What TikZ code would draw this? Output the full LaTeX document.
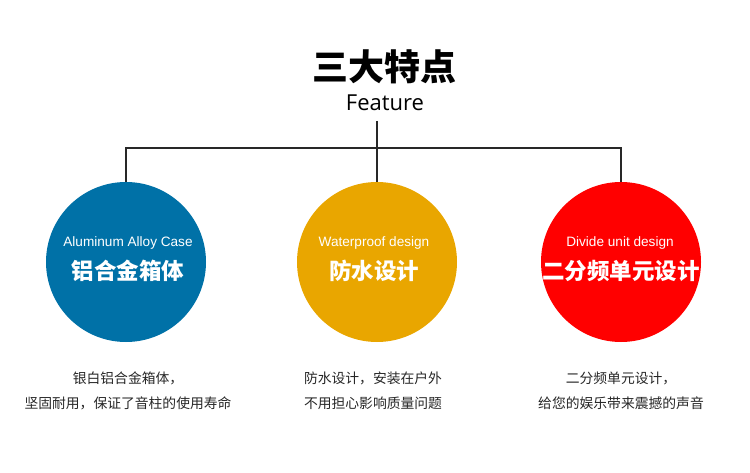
\documentclass[tikz,border=0pt]{standalone}
\usepackage{fontspec}
\setmainfont{Liberation Sans}
\newfontfamily\cjk{Noto Sans CJK SC}
\newfontfamily\featfont{Open Sans}
\usetikzlibrary{positioning}
\definecolor{alublue}{RGB}{0,113,167}
\definecolor{wateryellow}{RGB}{233,166,0}
\definecolor{unitred}{RGB}{255,0,0}
\definecolor{linegray}{RGB}{40,40,40}
\tikzset{
    disc/.style={circle, fill=#1, minimum size=160pt, inner sep=0pt},
    entitle/.style={text=white, font=\fontsize{13.6}{15}\selectfont},
    cntitle/.style={text=white, font=\cjk\bfseries\fontsize{22.5}{25}\selectfont},
    desc/.style={text=black!85, align=center,
                 font=\cjk\fontsize{13.8}{25}\selectfont},
    link/.style={draw=linegray, line width=1.4pt},
}

\begin{document}
\begin{tikzpicture}[x=1pt, y=1pt]

    \useasboundingbox (0,0) rectangle (750,-473);

    \node[font=\cjk\bfseries\fontsize{36}{40}\selectfont] (title) at (384,-67) {三大特点};
    \node[font=\featfont\fontsize{22}{24}\selectfont] (feat) at (385,-103) {Feature};

    \node[disc=alublue] (alu) at (126,-262) {};
    \node[disc=wateryellow] (water) at (377,-262) {};
    \node[disc=unitred] (unit) at (621,-262) {};

    \node[entitle] (aluen) at (128,-243) {Aluminum Alloy Case};
    \node[cntitle] (alucn) at (128,-271) {铝合金箱体};
    \node[entitle] (wateren) at (374,-243) {Waterproof design};
    \node[cntitle] (watercn) at (374,-271) {防水设计};
    \node[entitle] (uniten) at (620,-243) {Divide unit design};
    \node[cntitle] (unitcn) at (621,-271) {二分频单元设计};

    \node[desc] (aludesc) at (128,-391) {银白铝合金箱体，\\坚固耐用，保证了音柱的使用寿命};
    \node[desc] (waterdesc) at (373,-391) {防水设计，安装在户外\\不用担心影响质量问题};
    \node[desc] (unitdesc) at (621,-391) {二分频单元设计，\\给您的娱乐带来震撼的声音};

    \coordinate (bar) at (377,-148);
    \draw[link] (377,-121) -- (water.north);
    \draw[link] (alu.north) |- (bar) -| (unit.north);

\end{tikzpicture}
\end{document}
